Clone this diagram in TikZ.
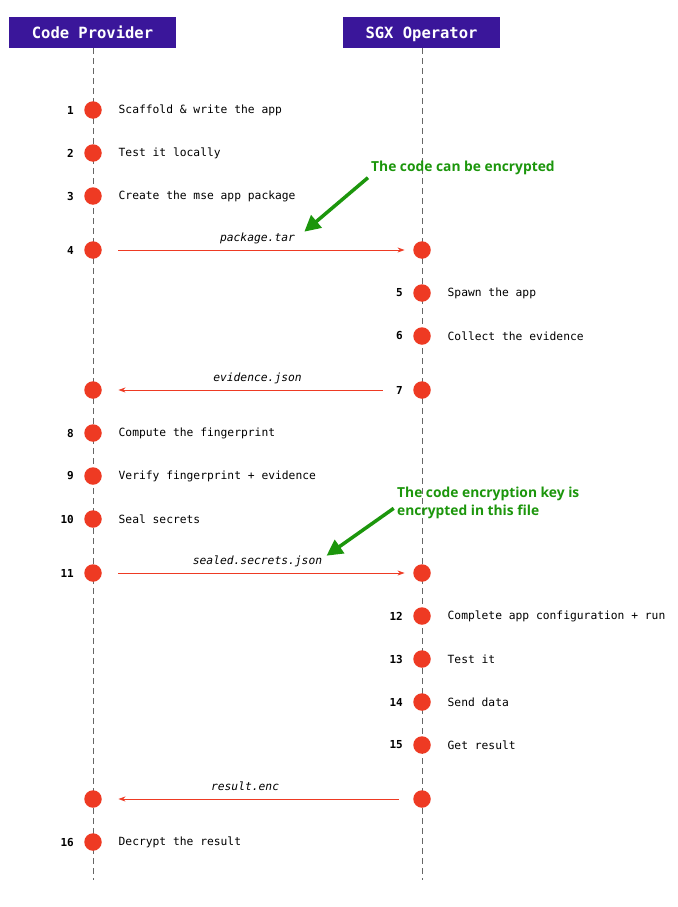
\documentclass[tikz,border=0pt]{standalone}
\usepackage{fontspec}
\setmonofont{DejaVu Sans Mono}
\newfontfamily\notefont{Open Sans}
\usetikzlibrary{positioning,arrows.meta}

\definecolor{actorpurple}{RGB}{58,22,154}
\definecolor{dotred}{RGB}{238,58,35}
\definecolor{notegreen}{RGB}{28,150,12}

\begin{document}
\begin{tikzpicture}[x=1pt,y=-1pt,node distance=43pt,on grid,
			actor/.style={rectangle, fill=actorpurple, text=white, minimum height=31pt, inner xsep=23pt, text height=11pt, text depth=0pt, font=\ttfamily\bfseries\fontsize{15.5}{18}\selectfont},
			life/.style={draw=black!60, line width=0.8pt, dash pattern=on 6pt off 4pt},
			stepdot/.style={circle, fill=dotred, minimum size=17.5pt, inner sep=0pt},
			num/.style={label distance=10pt, inner sep=0pt, font=\ttfamily\bfseries\fontsize{11}{13}\selectfont},
			task/.style={label distance=16.5pt, inner sep=0pt, font=\ttfamily\fontsize{11.3}{13}\selectfont},
			msg/.style={draw=dotred, line width=0.8pt, -{Stealth[length=7pt,width=5pt]}},
			file/.style={inner sep=0pt, text height=8pt, text depth=2.5pt, font=\ttfamily\itshape\fontsize{11.3}{13}\selectfont},
			note/.style={anchor=west, align=left, inner sep=0pt, text=notegreen, font=\notefont\bfseries\fontsize{13.8}{18}\selectfont},
			hint/.style={draw=notegreen, line width=3.5pt, -{Triangle[length=16pt,width=16pt]}}
		]
		\useasboundingbox (0,0) rectangle (677,907);
		
		% actors and lifelines
		\node[actor] (cp) at (92.5,32.5) {Code Provider};
		\node[actor] (sgx) at (421.5,32.5) {SGX Operator};
		\coordinate (cp_end) at (93,880);
		\coordinate (sgx_end) at (422,880);
		\draw[life] (cp.south -| cp_end) -- (cp_end);
		\draw[life] (sgx.south -| sgx_end) -- (sgx_end);
		
		% code provider, first steps
		\node[stepdot] (p_1) at (93,110) [label={[num]left:1}, label={[task]right:Scaffold \& write the app}] {};
		\node[stepdot] (p_2) [below=of p_1, label={[num]left:2}, label={[task]right:Test it locally}] {};
		\node[stepdot] (p_3) [below=of p_2, label={[num]left:3}, label={[task]right:Create the mse app package}] {};
		\node[stepdot] (p_4) [below=54pt of p_3, label={[num]left:4}] {};
		
		% sgx operator
		\node[stepdot] (r_4) [right=329pt of p_4] {};
		\node[stepdot] (r_5) [below=of r_4, label={[num]left:5}, label={[task]right:Spawn the app}] {};
		\node[stepdot] (r_6) [below=of r_5, label={[num]left:6}, label={[task]right:Collect the evidence}] {};
		\node[stepdot] (r_7) [below=54pt of r_6, label={[num]left:7}] {};
		
		% code provider, checks
		\node[stepdot] (p_7) [left=329pt of r_7] {};
		\node[stepdot] (p_8) [below=of p_7, label={[num]left:8}, label={[task]right:Compute the fingerprint}] {};
		\node[stepdot] (p_9) [below=of p_8, label={[num]left:9}, label={[task]right:Verify fingerprint + evidence}] {};
		\node[stepdot] (p_10) [below=of p_9, label={[num]left:10}, label={[task]right:Seal secrets}] {};
		\node[stepdot] (p_11) [below=54pt of p_10, label={[num]left:11}] {};
		
		% sgx operator, run
		\node[stepdot] (r_11) [right=329pt of p_11] {};
		\node[stepdot] (r_12) [below=of r_11, label={[num]left:12}, label={[task]right:Complete app configuration + run}] {};
		\node[stepdot] (r_13) [below=of r_12, label={[num]left:13}, label={[task]right:Test it}] {};
		\node[stepdot] (r_14) [below=of r_13, label={[num]left:14}, label={[task]right:Send data}] {};
		\node[stepdot] (r_15) [below=of r_14, label={[num]left:15}, label={[task]right:Get result}] {};
		\node[stepdot] (r_16) [below=54pt of r_15] {};
		
		\node[stepdot] (p_15) [left=329pt of r_16] {};
		\node[stepdot] (p_16) [below=of p_15, label={[num]left:16}, label={[task]right:Decrypt the result}] {};
		
		% messages
		\draw[msg, shorten <=16.5pt, shorten >=8.5pt] (p_4) -- (r_4) node[file, midway, above=6pt] (f_pkg) {package.tar};
		\draw[msg, shorten <=30.5pt, shorten >=16.5pt] (r_7) -- (p_7) node[file, midway, above=6pt] (f_evid) {evidence.json};
		\draw[msg, shorten <=16.5pt, shorten >=8.5pt] (p_11) -- (r_11) node[file, midway, above=6pt] (f_seal) {sealed.secrets.json};
		\draw[msg, shorten <=14.5pt, shorten >=16.5pt] (r_16) -- (p_15) node[file, pos=0.54, above=6pt] (f_res) {result.enc};
		
		% annotations
		\node[note] (n_enc) at (371,168) {The code can be encrypted};
		\node[note] (n_key) at (397,503) {The code encryption key is\\encrypted in this file};
		\draw[hint, shorten <=4pt] (n_enc.south west) -- ([xshift=9pt,yshift=1pt]f_pkg.north east);
		\draw[hint, shorten <=4pt] ([yshift=-3pt]n_key.west) -- ([xshift=4pt]f_seal.north east);
	\end{tikzpicture}
\end{document}
